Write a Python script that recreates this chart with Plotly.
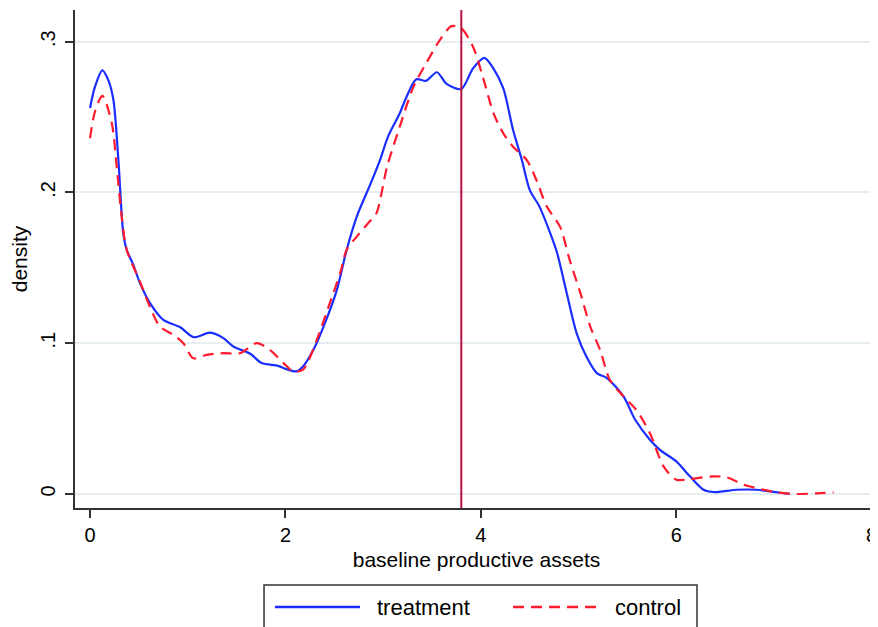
import plotly.graph_objects as go

# ---- data ----
treat_x = [0, 0.05, 0.126, 0.19, 0.24, 0.29, 0.34, 0.375, 0.443, 0.51, 0.614, 0.75, 0.92, 1.06,
           1.23, 1.365, 1.467, 1.64, 1.757, 1.927, 2.01, 2.11, 2.18, 2.286, 2.39, 2.525, 2.627,
           2.73, 2.866, 2.968, 3.05, 3.17, 3.24, 3.34, 3.44, 3.55, 3.65, 3.80, 3.92, 4.036,
           4.128, 4.23, 4.33, 4.42, 4.50, 4.6, 4.71, 4.78, 4.88, 4.98, 5.08, 5.19, 5.29, 5.46,
           5.58, 5.73, 5.83, 6.0, 6.14, 6.28, 6.38, 6.62, 6.82, 6.96, 7.16]
treat_y = [0.256, 0.270, 0.281, 0.274, 0.261, 0.2215, 0.173, 0.162, 0.152, 0.140, 0.1266, 0.1155,
           0.1107, 0.104, 0.107, 0.1034, 0.0978, 0.093, 0.0868, 0.085, 0.0828, 0.0813, 0.0846,
           0.0956, 0.111, 0.135, 0.162, 0.184, 0.205, 0.2215, 0.237, 0.2525, 0.2635, 0.275, 0.274,
           0.2797, 0.272, 0.2686, 0.2823, 0.2893, 0.2823, 0.269, 0.2414, 0.2215, 0.2017, 0.1906,
           0.173, 0.160, 0.133, 0.1067, 0.0912, 0.080, 0.0769, 0.0647, 0.0492, 0.036, 0.0294,
           0.0216, 0.0117, 0.0028, 0.0013, 0.0028, 0.0028, 0.0017, 0.0]

ctrl_x = [0, 0.05, 0.126, 0.222, 0.273, 0.324, 0.375, 0.51, 0.614, 0.716, 0.853, 0.955, 1.057,
          1.194, 1.365, 1.535, 1.706, 1.84, 1.98, 2.08, 2.18, 2.32, 2.44, 2.56, 2.627, 2.73,
          2.866, 2.93, 3.04, 3.17, 3.31, 3.44, 3.58, 3.70, 3.80, 3.92, 4.02, 4.13, 4.23, 4.33,
          4.47, 4.57, 4.675, 4.81, 4.91, 5.02, 5.12, 5.22, 5.32, 5.46, 5.59, 5.73, 5.87, 6.0,
          6.14, 6.38, 6.52, 6.69, 6.86, 7.03, 7.23, 7.44, 7.61]
ctrl_y = [0.236, 0.2535, 0.264, 0.246, 0.217, 0.184, 0.162, 0.141, 0.124, 0.111, 0.1056, 0.100,
          0.090, 0.0923, 0.0934, 0.0934, 0.100, 0.0956, 0.0868, 0.0813, 0.0824, 0.102, 0.124,
          0.1465, 0.162, 0.1707, 0.181, 0.186, 0.217, 0.2436, 0.270, 0.2856, 0.301, 0.3103,
          0.3088, 0.2966, 0.2767, 0.2525, 0.2392, 0.2303, 0.2215, 0.208, 0.1906, 0.1773, 0.155,
          0.133, 0.111, 0.0956, 0.0757, 0.0647, 0.0559, 0.0404, 0.0183, 0.0095, 0.0099, 0.0117,
          0.011, 0.0062, 0.0033, 0.001, 0.0, 0.0004, 0.001]

vline_x = 3.8
x_ticks = [0, 2, 4, 6, 8]
x_ticklabels = ["0", "2", "4", "6", "8"]
y_ticks = [0, 0.1, 0.2, 0.3]
y_ticklabels = ["0", ".1", ".2", ".3"]
series_names = ["treatment", "control"]

BLUE = "#1a2eff"
RED = "#ff1a2e"
FONT = "Liberation Sans, Arial, Helvetica, sans-serif"

fig = go.Figure()
fig.add_trace(go.Scatter(x=treat_x, y=treat_y, mode="lines", name=series_names[0],
                         line=dict(color=BLUE, width=2.2, shape="spline", smoothing=0.8),
                         showlegend=False))
fig.add_trace(go.Scatter(x=ctrl_x, y=ctrl_y, mode="lines", name=series_names[1],
                         line=dict(color=RED, width=2.2, dash="11px,7px", shape="spline", smoothing=0.8),
                         showlegend=False))

fig.add_shape(type="line", xref="x", yref="paper", x0=vline_x, x1=vline_x, y0=0, y1=1,
              line=dict(color="#b5123f", width=2))

# manual legend (Stata style)
fig.add_shape(type="rect", xref="paper", yref="paper", x0=0.2354, x1=0.7746, y0=-0.30, y1=-0.1546,
              line=dict(color="#333333", width=1.5), fillcolor="white")
fig.add_shape(type="line", xref="paper", yref="paper", x0=0.249, x1=0.355, y0=-0.1988, y1=-0.1988,
              line=dict(color=BLUE, width=2.5))
fig.add_shape(type="line", xref="paper", yref="paper", x0=0.5455, x1=0.6538, y0=-0.1988, y1=-0.1988,
              line=dict(color=RED, width=2.5, dash="11px,7px"))
fig.add_annotation(xref="paper", yref="paper", x=0.3736, y=-0.1988, text=series_names[0],
                   showarrow=False, xanchor="left", yanchor="middle",
                   font=dict(family=FONT, size=22, color="black"))
fig.add_annotation(xref="paper", yref="paper", x=0.670, y=-0.1988, text=series_names[1],
                   showarrow=False, xanchor="left", yanchor="middle",
                   font=dict(family=FONT, size=22, color="black"))

# the page body adds an 8px offset, so the figure is 8px smaller on each axis
fig.update_layout(
    width=870, height=619,
    margin=dict(l=67, r=0, t=2, b=119, autoexpand=False),
    paper_bgcolor="white", plot_bgcolor="white",
    font=dict(family=FONT, color="black"),
    xaxis=dict(range=[-0.154, 8.065], tickvals=x_ticks, ticktext=x_ticklabels, automargin=False,
               ticklabeloverflow="allow",
               showgrid=False, zeroline=False, showline=True, linecolor="#333333", linewidth=1.5,
               ticks="outside", ticklen=8, tickwidth=1.5, tickcolor="#333333",
               tickfont=dict(size=20),
               title=dict(text="baseline productive assets", font=dict(size=21), standoff=8)),
    yaxis=dict(range=[-0.0093, 0.321], tickvals=y_ticks, ticktext=y_ticklabels, automargin=False,
               tickangle=-90, ticklabelstandoff=2,
               showgrid=True, gridcolor="#e6eef1", gridwidth=1.5, zeroline=False,
               showline=True, linecolor="#333333", linewidth=1.5,
               ticks="outside", ticklen=8, tickwidth=1.5, tickcolor="#333333",
               tickfont=dict(size=20),
               title=dict(text="density", font=dict(size=21), standoff=8)),
)

fig.write_html("out.html")
